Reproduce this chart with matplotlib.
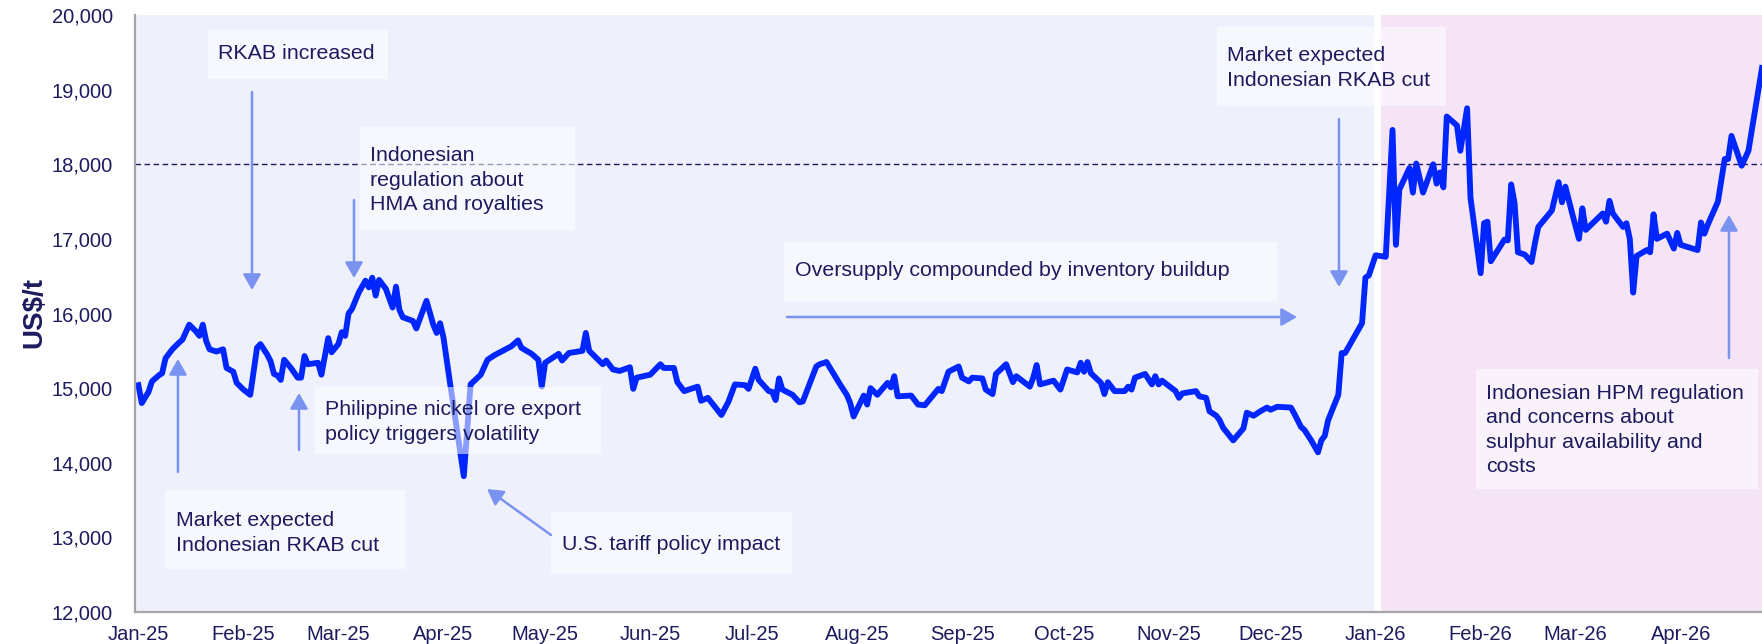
import pandas as pd
import matplotlib
matplotlib.use("Agg")
import matplotlib.pyplot as plt
import matplotlib.dates as mdates
from matplotlib.patches import Rectangle, FancyArrowPatch
from matplotlib.ticker import FuncFormatter

plt.rcParams['font.family'] = ['Liberation Sans', 'DejaVu Sans']

# nickel price, US$/t
days_2025 = ["01-01", "01-02", "01-04", "01-05", "01-07", "01-08", "01-09", "01-11", "01-13", "01-14",
             "01-16", "01-18", "01-19", "01-20", "01-21", "01-22", "01-24", "01-26", "01-27", "01-29",
             "01-30", "02-01", "02-03", "02-05", "02-06", "02-08", "02-09", "02-10", "02-11", "02-12",
             "02-13", "02-15", "02-17", "02-18", "02-19", "02-20", "02-23", "02-24", "02-26", "02-27",
             "03-01", "03-02", "03-03", "03-04", "03-05", "03-07", "03-09", "03-10", "03-11", "03-12",
             "03-13", "03-15", "03-17", "03-18", "03-19", "03-20", "03-23", "03-24", "03-27", "03-29",
             "03-30", "03-31", "04-01", "04-03", "04-07", "04-09", "04-12", "04-14", "04-16", "04-21",
             "04-23", "04-24", "04-27", "04-29", "04-30", "05-01", "05-05", "05-06", "05-08", "05-12",
             "05-13", "05-14", "05-18", "05-19", "05-21", "05-23", "05-26", "05-27", "05-28", "06-01",
             "06-04", "06-05", "06-08", "06-09", "06-11", "06-15", "06-16", "06-18", "06-22", "06-24",
             "06-26", "06-29", "06-30", "07-02", "07-03", "07-06", "07-07", "07-08", "07-09", "07-10",
             "07-13", "07-15", "07-16", "07-20", "07-21", "07-23", "07-25", "07-27", "07-29", "07-30",
             "07-31", "08-03", "08-04", "08-05", "08-07", "08-10", "08-11", "08-12", "08-13", "08-17",
             "08-19", "08-21", "08-25", "08-26", "08-28", "08-31", "09-01", "09-03", "09-04", "09-07",
             "09-08", "09-10", "09-11", "09-14", "09-16", "09-17", "09-21", "09-22", "09-23", "09-24",
             "09-28", "09-30", "10-02", "10-05", "10-06", "10-07", "10-08", "10-09", "10-12", "10-13",
             "10-14", "10-16", "10-19", "10-20", "10-21", "10-22", "10-25", "10-27", "10-28", "10-29",
             "10-30", "11-03", "11-04", "11-05", "11-09", "11-10", "11-12", "11-13", "11-15", "11-16",
             "11-17", "11-20", "11-23", "11-24", "11-26", "11-28", "11-30", "12-01", "12-03", "12-07",
             "12-08", "12-10", "12-11", "12-13", "12-15", "12-16", "12-17", "12-18", "12-21", "12-22",
             "12-23", "12-28", "12-29", "12-30"]
prices_2025 = [15040, 14800, 14950, 15090, 15170, 15200, 15400, 15520, 15610, 15650,
               15850, 15760, 15700, 15850, 15630, 15520, 15490, 15520, 15270, 15220,
               15070, 14980, 14910, 15540, 15590, 15450, 15360, 15190, 15170, 15110,
               15380, 15270, 15140, 15140, 15430, 15320, 15340, 15180, 15670, 15480,
               15590, 15750, 15700, 16000, 16060, 16280, 16440, 16350, 16480, 16240,
               16450, 16330, 16080, 16360, 16050, 15950, 15900, 15800, 16170, 15850,
               15740, 15870, 15680, 15050, 13820, 15050, 15180, 15380, 15440, 15560,
               15640, 15540, 15460, 15380, 15020, 15340, 15460, 15370, 15470, 15500,
               15740, 15500, 15320, 15370, 15250, 15230, 15280, 14990, 15140, 15180,
               15320, 15270, 15270, 15080, 14960, 15020, 14830, 14870, 14640, 14810,
               15050, 15040, 14990, 15260, 15110, 14960, 14950, 14840, 15130, 14980,
               14910, 14810, 14820, 15290, 15320, 15350, 15200, 15050, 14910, 14800,
               14620, 14900, 14780, 15000, 14910, 15070, 15010, 15160, 14890, 14900,
               14780, 14770, 14990, 14960, 15220, 15290, 15140, 15090, 15140, 15130,
               14980, 14920, 15190, 15320, 15080, 15160, 15020, 15140, 15310, 15050,
               15100, 14980, 15250, 15210, 15340, 15220, 15350, 15200, 15070, 14920,
               15080, 14960, 14960, 15020, 14980, 15140, 15190, 15050, 15160, 15050,
               15100, 14960, 14870, 14930, 14960, 14890, 14870, 14690, 14630, 14570,
               14470, 14300, 14460, 14670, 14630, 14690, 14740, 14710, 14750, 14740,
               14660, 14480, 14440, 14300, 14140, 14300, 14360, 14570, 14910, 15470,
               15470, 15870, 16480, 16510]
days_2026 = ["01-01", "01-04", "01-06", "01-07", "01-08", "01-11", "01-12", "01-13", "01-15", "01-18",
             "01-19", "01-20", "01-21", "01-22", "01-25", "01-26", "01-28", "01-29", "02-01", "02-02",
             "02-03", "02-04", "02-08", "02-09", "02-10", "02-11", "02-12", "02-14", "02-16", "02-17",
             "02-18", "02-22", "02-24", "02-25", "02-26", "02-28", "03-02", "03-03", "03-04", "03-09",
             "03-10", "03-11", "03-12", "03-15", "03-16", "03-17", "03-18", "03-19", "03-22", "03-23",
             "03-24", "03-25", "03-28", "03-30", "03-31", "04-01", "04-06", "04-07", "04-08", "04-09",
             "04-12", "04-14", "04-15", "04-16", "04-19", "04-21", "04-25"]
prices_2026 = [16780, 16760, 18460, 16920, 17660, 17950, 17620, 18010, 17620, 18000,
               17740, 17890, 17690, 18640, 18520, 18180, 18750, 17550, 16540, 17210,
               17230, 16700, 16990, 16980, 17730, 17480, 16820, 16790, 16690, 16940,
               17160, 17380, 17760, 17490, 17700, 17340, 17000, 17410, 17120, 17340,
               17230, 17510, 17340, 17160, 17210, 17000, 16280, 16770, 16850, 16820,
               17330, 17000, 17070, 16870, 17080, 16920, 16850, 17220, 17070, 17190,
               17500, 18070, 18070, 18380, 17980, 18180, 19290]

reference_level = 18000

dates = pd.to_datetime(["2025-" + d for d in days_2025] + ["2026-" + d for d in days_2026])
prices = prices_2025 + prices_2026

NAVY = '#1B1B5E'
LINE = '#0026FF'
ARROW = '#7B93F0'

fig = plt.figure(figsize=(17.62, 6.44), dpi=100)
ax = fig.add_axes([135 / 1762, 32 / 644, 1627 / 1762, 597 / 644])

x_start = pd.Timestamp("2024-12-31")
x_end = pd.Timestamp("2026-04-25")

# shaded periods
ax.axvspan(x_start, pd.Timestamp("2025-12-31 12:00"), color='#EEF0FC', lw=0, zorder=0)
ax.axvspan(pd.Timestamp("2026-01-02 12:00"), x_end, color='#F5E4F6', lw=0, zorder=0)

ax.axhline(reference_level, color=NAVY, lw=1, linestyle=(0, (4, 2.5)), zorder=1)
ax.plot(dates, prices, color=LINE, lw=4.2, solid_joinstyle='round', zorder=2)

ax.set_xlim(x_start, x_end)
ax.set_ylim(12000, 20000)
ax.set_yticks(range(12000, 20001, 1000))
ax.yaxis.set_major_formatter(FuncFormatter(lambda v, p: f"{v:,.0f}"))
ax.xaxis.set_major_locator(mdates.MonthLocator())
ax.xaxis.set_major_formatter(mdates.DateFormatter('%b-%y'))
ax.tick_params(axis='y', length=0, pad=16, labelsize=14.5, labelcolor=NAVY)
ax.tick_params(axis='x', length=0, pad=9, labelsize=14.5, labelcolor=NAVY)

for s in ['top', 'right']:
    ax.spines[s].set_visible(False)
for s in ['left', 'bottom']:
    ax.spines[s].set_color('#A6A6A6')
    ax.spines[s].set_linewidth(1.6)

fig.text(34 / 1762, 1 - 313 / 644, 'US$/t', rotation=90, fontsize=20, fontweight='bold',
         color=NAVY, ha='center', va='center')


def note(box, tx, ty, text):
    x0, y0, x1, y1 = box
    ax.add_patch(Rectangle((x0, y0), x1 - x0, y1 - y0, transform=ax.transAxes,
                           facecolor='white', alpha=0.55, lw=0, zorder=3))
    ax.text(tx, ty, text, transform=ax.transAxes, fontsize=15.4, color=NAVY,
            ha='left', va='center', linespacing=1.35, zorder=4)


def arrow(a, b):
    ax.add_patch(FancyArrowPatch(a, b, transform=ax.transAxes,
                                 arrowstyle='-|>,head_length=0.47,head_width=0.27',
                                 mutation_scale=20, lw=1.8, color=ARROW,
                                 shrinkA=0, shrinkB=0, zorder=5))


note((0.0449, 0.8928, 0.1555, 0.9749), 0.0510, 0.9347, "RKAB increased")
arrow((0.0719, 0.8710), (0.0719, 0.5394))

note((0.1383, 0.6399, 0.2704, 0.8124), 0.1444, 0.7236,
     "Indonesian\nregulation about\nHMA and royalties")
arrow((0.1346, 0.6901), (0.1346, 0.5595))

note((0.1106, 0.2647, 0.2864, 0.3769), 0.1168, 0.3183,
     "Philippine nickel ore export\npolicy triggers volatility")
arrow((0.1008, 0.2714), (0.1008, 0.3668))

note((0.0184, 0.0720, 0.1660, 0.2044), 0.0252, 0.1323,
     "Market expected\nIndonesian RKAB cut")
arrow((0.0264, 0.2345), (0.0264, 0.4238))

note((0.2557, 0.0653, 0.4038, 0.1675), 0.2624, 0.1139, "U.S. tariff policy impact")
arrow((0.2557, 0.1290), (0.2164, 0.2060))

note((0.3989, 0.5209, 0.7019, 0.6198), 0.4057, 0.5712,
     "Oversupply compounded by inventory buildup")
arrow((0.4007, 0.4941), (0.7142, 0.4941))

note((0.6650, 0.8476, 0.8058, 0.9799), 0.6712, 0.9112,
     "Market expected\nIndonesian RKAB cut")
arrow((0.7400, 0.8258), (0.7400, 0.5444))

note((0.8242, 0.2060, 0.9975, 0.4070), 0.8304, 0.3049,
     "Indonesian HPM regulation\nand concerns about\nsulphur availability and\ncosts")
arrow((0.9797, 0.4255), (0.9797, 0.6650))

fig.savefig('out.png', dpi=100)
